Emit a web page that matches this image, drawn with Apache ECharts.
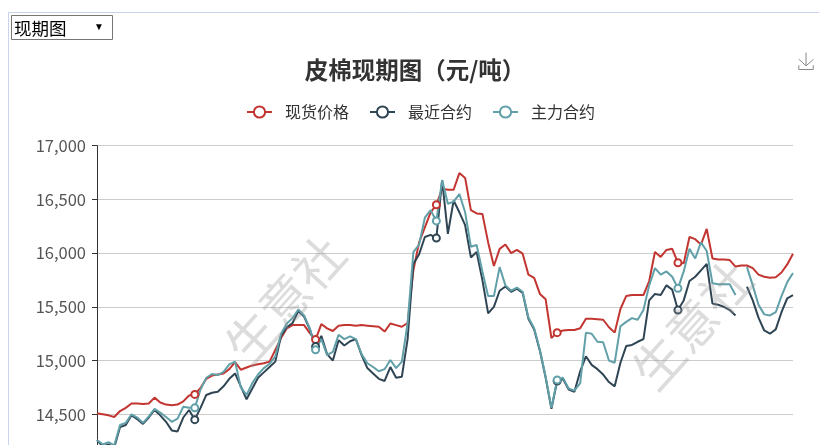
<!DOCTYPE html>
<html>
<head>
<meta charset="utf-8">
<script src="https://cdn.jsdelivr.net/npm/echarts@6/dist/echarts.min.js"></script>
<style>
html,body{margin:0;padding:0;background:#fff;overflow:hidden;width:819px;height:445px;}
#c{position:absolute;left:0;top:0;width:819px;height:500px;}
</style>
</head>
<body>
<div id="c"></div>
<script>
const titleText = '皮棉现期图（元/吨）';
const seriesNames = ['现货价格', '最近合约', '主力合约'];
const yTicks = [14000, 14500, 15000, 15500, 16000, 16500, 17000];
const dropdownLabel = '现期图';
const watermark = '生意社';

// 现货价格
const spot = [14510,14500,14490,14475,14530,14560,14600,14600,14595,14600,
14655,14610,14590,14585,14590,14620,14675,14685,14745,14830,
14860,14870,14880,14920,14985,14915,14935,14955,14965,14975,
14990,15100,15210,15300,15330,15330,15330,15255,15195,15340,
15300,15275,15325,15330,15330,15325,15330,15325,15320,15315,
15270,15345,15330,15315,15350,15840,16100,16240,16380,16450,
16600,16590,16590,16745,16700,16400,16370,16365,16100,15880,
16040,16080,16000,16030,15995,15800,15770,15620,15570,15210,
15260,15280,15285,15285,15300,15390,15390,15385,15380,15310,
15260,15480,15600,15610,15610,15610,15740,16010,15965,16030,
16040,15910,15905,16150,16130,16080,16225,15950,15940,15940,
15935,15875,15885,15885,15860,15800,15780,15770,15775,15820,
15895,15995];

// 最近合约
const nearby = [14260,14200,14220,14190,14380,14400,14490,14455,14410,14470,
14540,14490,14430,14350,14340,14470,14540,14450,14560,14680,
14700,14710,14760,14830,14880,14760,14640,14740,14840,14890,
14940,14990,15230,15310,15350,15460,15410,15290,15130,15230,
15060,15000,15190,15140,15180,15200,15050,14930,14880,14830,
14810,14940,14840,14850,15200,15900,15990,16150,16170,16140,
16680,16180,16490,16380,16260,15960,16010,15750,15440,15500,
15650,15690,15640,15670,15630,15390,15290,15090,14840,14550,
14810,14830,14730,14710,14900,15040,14960,14920,14870,14800,
14760,14980,15135,15145,15175,15200,15560,15620,15610,15700,
15660,15470,15560,15740,15780,15840,15900,15530,15520,15500,
15470,15420,null,15687,15560,15400,15280,15250,15290,15450,
15580,15610];

// 主力合约
const main = [14260,14220,14240,14210,14400,14420,14500,14470,14420,14480,
14550,14515,14475,14430,14460,14570,14560,14560,14730,14840,
14875,14865,14895,14965,14990,14750,14680,14790,14870,14930,
14970,15040,15250,15345,15395,15475,15420,15300,15100,15200,
15050,15080,15240,15200,15225,15200,15060,14975,14940,14900,
14920,15005,14930,14990,15350,16010,16080,16330,16400,16300,
16680,16460,16480,16550,16380,16060,16076,15830,15600,15600,
15870,15700,15650,15680,15640,15400,15300,15100,14850,14560,
14820,14840,14740,14720,14790,15260,15250,15175,15170,15000,
14980,15320,15360,15395,15380,15470,15700,15860,15800,15830,
15780,15672,15830,16040,15950,16100,16020,15720,15710,15710,
15710,15610,null,15870,15700,15520,15430,15420,15450,15600,
15730,15815];

// indices where a point marker is drawn
const markIdx = [17, 38, 59, 80, 101];
const categories = spot.map((_, i) => String(i + 1));

const colors = ['#c23531', '#2f4554', '#61a0a8'];
const font = "'Microsoft YaHei','Noto Sans CJK SC',sans-serif";

const chart = echarts.init(document.getElementById('c'), null, {renderer: 'canvas'});
const mkSeries = (name, data) => ({
  name, type: 'line', data,
  symbol: 'emptyCircle',
  showSymbol: true, showAllSymbol: true,
  symbolSize: (v, p) => markIdx.includes(p.dataIndex) ? 7 : 0,
  lineStyle: {width: 2},
  connectNulls: false,
  animation: false
});

chart.setOption({
  color: colors,
  animation: false,
  textStyle: {fontFamily: font},
  title: {
    text: titleText, left: 415, textAlign: 'center', top: 58, padding: 0,
    textStyle: {fontSize: 23.5, fontWeight: 'bold', color: '#333', fontFamily: font}
  },
  legend: {
    data: seriesNames, left: 246, top: 104, padding: 0,
    itemWidth: 25, itemHeight: 14, itemGap: 20,
    textStyle: {fontSize: 16, color: '#333', fontFamily: font, padding: [0, 0, 0, 8]}
  },
  toolbox: {
    right: -12, top: 35, itemSize: 17,
    feature: {saveAsImage: {title: ''}},
    iconStyle: {borderColor: '#888'}
  },
  grid: {left: 97, right: 26, top: 145.7, bottom: 32, containLabel: false},
  xAxis: {
    type: 'category', data: categories, boundaryGap: false,
    axisLine: {show: false}, axisTick: {show: false}, axisLabel: {show: false}
  },
  yAxis: {
    type: 'value', min: yTicks[0], max: yTicks[yTicks.length - 1], interval: 500,
    axisLine: {show: true, lineStyle: {color: '#333', width: 1}},
    axisTick: {show: true, length: 5, lineStyle: {color: '#333'}},
    axisLabel: {fontSize: 16.5, color: '#555', margin: 11, fontFamily: font,
      formatter: v => v.toLocaleString('en-US')},
    splitLine: {show: true, lineStyle: {color: '#ccc', width: 1}}
  },
  graphic: [
    {type: 'line', shape: {x1: 8, y1: 12.5, x2: 819, y2: 12.5}, style: {stroke: '#c8d5ec', lineWidth: 1}, silent: true},
    {type: 'line', shape: {x1: 8.5, y1: 12, x2: 8.5, y2: 445}, style: {stroke: '#c8d5ec', lineWidth: 1}, silent: true},
    {type: 'rect', shape: {x: 11.5, y: 15.5, width: 101, height: 24}, style: {fill: '#fff', stroke: '#767676', lineWidth: 1}, silent: true},
    {type: 'text', x: 14, y: 28, style: {text: dropdownLabel, fontSize: 17.5, fill: '#000', fontFamily: font, verticalAlign: 'middle'}, silent: true},
    {type: 'text', x: 99, y: 27, style: {text: '▼', fontSize: 10, fill: '#000', align: 'center', verticalAlign: 'middle'}, silent: true},
    {type: 'text', x: 285, y: 300, rotation: 0.84, style: {text: watermark, fontSize: 50, fill: 'rgba(150,150,150,0.33)', align: 'center', verticalAlign: 'middle', fontFamily: font}, silent: true, z: 100},
    {type: 'text', x: 692, y: 325, rotation: 0.84, style: {text: watermark, fontSize: 50, fill: 'rgba(150,150,150,0.33)', align: 'center', verticalAlign: 'middle', fontFamily: font}, silent: true, z: 100}
  ],
  series: [mkSeries(seriesNames[0], spot), mkSeries(seriesNames[1], nearby), mkSeries(seriesNames[2], main)]
});
</script>
</body>
</html>
